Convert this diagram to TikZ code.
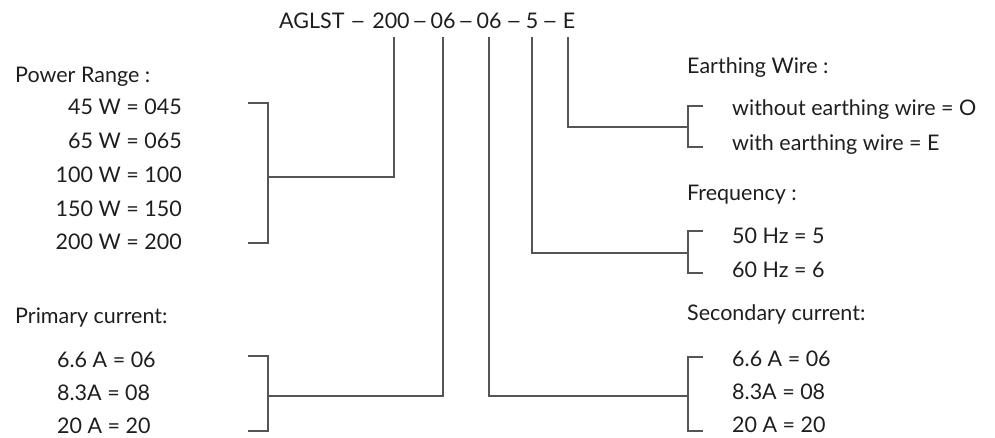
\documentclass[tikz,border=0pt]{standalone}
\usepackage{fontspec}
\setmainfont{Lato}
\definecolor{txt}{HTML}{1E1E1E}
\definecolor{ln}{HTML}{555555}
\newcommand{\wdash}{\scalebox{1.3}[1]{–}}
\tikzset{
  lbl/.style={anchor=base west, inner sep=0pt, text=txt, font=\fontsize{21.5}{24}\selectfont},
  itemr/.style={anchor=base east, inner sep=0pt, text=txt, font=\fontsize{21.5}{24}\selectfont},
  seg/.style={anchor=base, inner sep=0pt, text=txt, font=\fontsize{21.5}{24}\selectfont},
  conn/.style={draw=ln, line width=1.3pt},
}
\begin{document}
\begin{tikzpicture}[x=1pt,y=-1pt]
\useasboundingbox (0,0) rectangle (995,437);
% title
\node[lbl] (code) at (279,28) {AGLST};
\node[seg] (d1) at (358,28) {\wdash};
\node[seg] (s200) at (391,28) {200};
\node[seg] (d2) at (420,28) {\wdash};
\node[seg] (s06a) at (443,28) {06};
\node[seg] (d3) at (466,28) {\wdash};
\node[seg] (s06b) at (489,28) {06};
\node[seg] (d4) at (514,28) {\wdash};
\node[seg] (s5) at (532,28) {5};
\node[seg] (d5) at (550,28) {\wdash};
\node[seg] (sE) at (569,28) {E};
\coordinate (t1) at (394,37);
\coordinate (t2) at (s06a.base |- t1);
\coordinate (t3) at (s06b.base |- t1);
\coordinate (t4) at (s5.base |- t1);
\coordinate (t5) at (568,37);
% power range
\node[lbl] (pr) at (15,82) {Power Range :};
\node[itemr] (p1) at (182,114) {45 W = 045};
\node[itemr] (p2) at (182,148) {65 W = 065};
\node[itemr] (p3) at (182,182) {100 W = 100};
\node[itemr] (p4) at (182,216) {150 W = 150};
\node[itemr] (p5) at (182,249) {200 W = 200};
\coordinate (pbt) at (268,103);
\coordinate (pbb) at (268,243);
\coordinate (pbm) at (268,177);
\draw[conn] (248,103) -- (pbt) -- (pbb) -- (248,243);
\draw[conn] (pbm) -- (t1 |- pbm) -- (t1);
% primary current
\node[lbl] (pc) at (15,323) {Primary current:};
\node[lbl] (c1) at (57,367) {6.6 A = 06};
\node[lbl] (c2) at (57,400) {8.3A = 08};
\node[lbl] (c3) at (57,433) {20 A = 20};
\coordinate (cbt) at (268,356);
\coordinate (cbb) at (268,431);
\coordinate (cbm) at (268,396);
\draw[conn] (248,356) -- (cbt) -- (cbb) -- (248,431);
\draw[conn] (cbm) -- (t2 |- cbm) -- (t2);
% earthing wire
\node[lbl] (ew) at (687,73) {Earthing Wire :};
\node[lbl] (e1) at (732,115) {without earthing wire = O};
\node[lbl] (e2) at (732,150) {with earthing wire = E};
\coordinate (ebm) at (688,127);
\draw[conn] (703,106) -- (688,106) -- (688,147) -- (703,147);
\draw[conn] (ebm) -- (t5 |- ebm) -- (t5);
% frequency
\node[lbl] (fq) at (687,200) {Frequency :};
\node[lbl] (f1) at (732,243) {50 Hz = 5};
\node[lbl] (f2) at (732,277) {60 Hz = 6};
\coordinate (fbm) at (688,253);
\draw[conn] (703,231) -- (688,231) -- (688,273) -- (703,273);
\draw[conn] (fbm) -- (t4 |- fbm) -- (t4);
% secondary current
\node[lbl] (sc) at (687,320) {Secondary current:};
\node[lbl] (s1) at (732,366) {6.6 A = 06};
\node[lbl] (s2) at (732,399) {8.3A = 08};
\node[lbl] (s3) at (732,432) {20 A = 20};
\coordinate (sbm) at (688,396);
\draw[conn] (703,357) -- (688,357) -- (688,431) -- (703,431);
\draw[conn] (sbm) -- (t3 |- sbm) -- (t3);
\end{tikzpicture}
\end{document}
